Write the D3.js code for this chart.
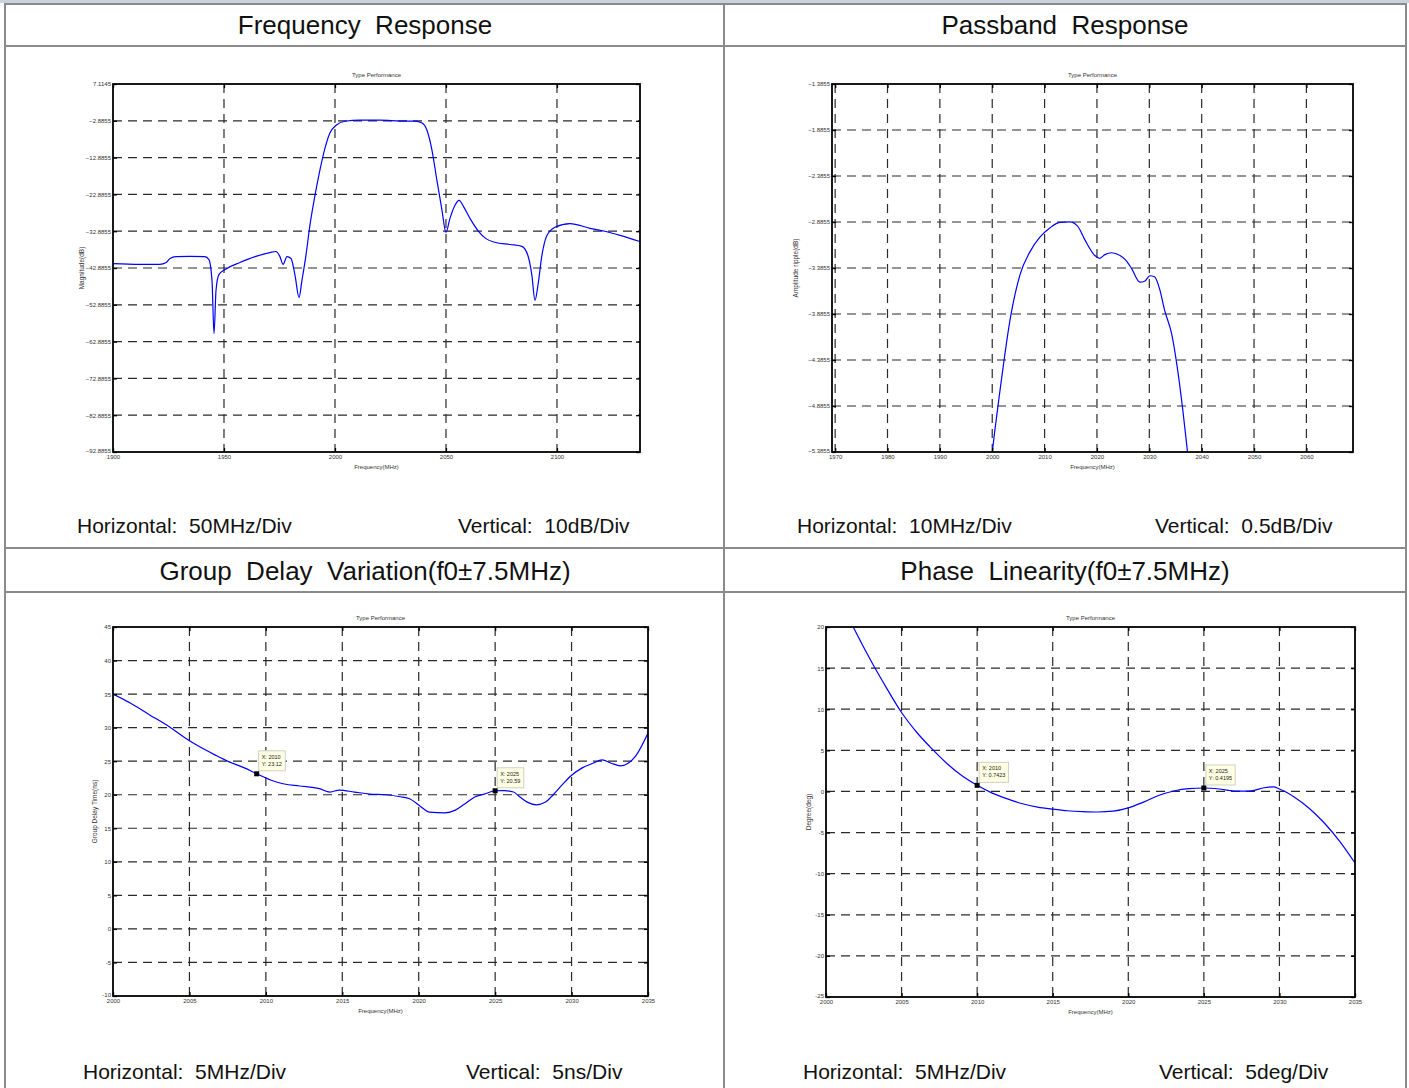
<!DOCTYPE html>
<html>
<head>
<meta charset="utf-8">
<script src="https://cdn.jsdelivr.net/npm/d3@7"></script>
<style>
  body { margin: 0; background: #fff; }
  svg { display: block; font-family: "Liberation Sans", Arial, sans-serif; }
</style>
</head>
<body>
<script>
// ---- frequency response (wide span)
var respF  = [1900, 1912, 1921, 1924, 1925.7, 1928.4, 1934.7, 1941.4, 1943.2, 1944.6, 1945.5, 1946.4, 1947.7, 1950.5, 1957.2, 1964, 1970.7, 1973.4, 1975.2, 1976.6, 1978.4, 1980.2, 1982, 1983.8, 1985.1, 1986.9, 1988.7, 1991, 1993.2, 1995.5, 1997.7, 2000.5, 2004.5, 2011.3, 2020.3, 2029.3, 2036, 2039.2, 2041.4, 2043.7, 2045.9, 2048.2, 2050, 2051.8, 2054, 2055.9, 2058.1, 2060.8, 2064.4, 2068, 2072, 2078.8, 2084.2, 2086.9, 2088.7, 2090.1, 2091.4, 2093.2, 2095.5, 2099.1, 2105.9, 2114.9, 2121.6, 2128.4, 2137.4];
var respDb = [-41.7, -41.9, -41.9, -41.4, -40.3, -39.8, -39.7, -39.8, -40.6, -46.3, -60.7, -49, -44.7, -43.3, -41.4, -39.8, -38.7, -38.4, -39.8, -41.9, -39.8, -40.3, -44.9, -50.9, -46.3, -39.5, -31.3, -23.1, -16.3, -10.3, -6.2, -4.1, -3.0, -2.7, -2.7, -2.95, -3.0, -3.5, -5.4, -10.9, -19.0, -27.2, -33.2, -29.4, -25.9, -24.5, -26.4, -29.4, -32.7, -34.9, -35.9, -36.5, -37, -39.5, -44.9, -51.7, -47.7, -39.5, -34, -31.8, -30.8, -32.1, -32.9, -34, -35.7];
var respXTicks = [1900, 1950, 2000, 2050, 2100];
var respYTicks = [7.1145, -2.8855, -12.8855, -22.8855, -32.8855, -42.8855, -52.8855, -62.8855, -72.8855, -82.8855, -92.8855];

// ---- passband ripple
var passF  = [2000, 2000.5, 2001.5, 2002.4, 2003.4, 2005.3, 2007.2, 2009.1, 2011.0, 2012.9, 2014.8, 2016.3, 2017.7, 2019.6, 2020.5, 2021.5, 2022.8, 2024.4, 2025.5, 2026.6, 2028.2, 2029.1, 2030.1, 2031.0, 2032.0, 2032.9, 2034.3, 2035.4, 2036.4, 2037.3, 2038.3];
var passDb = [-5.39, -5.15, -4.71, -4.33, -3.95, -3.46, -3.21, -3.05, -2.95, -2.89, -2.885, -2.93, -3.08, -3.25, -3.28, -3.24, -3.22, -3.25, -3.30, -3.39, -3.54, -3.53, -3.47, -3.48, -3.62, -3.84, -4.11, -4.49, -4.93, -5.39, -5.9];
var passXTicks = [1970, 1980, 1990, 2000, 2010, 2020, 2030, 2040, 2050, 2060];
var passYTicks = [-1.3855, -1.8855, -2.3855, -2.8855, -3.3855, -3.8855, -4.3855, -4.8855, -5.3855];

// ---- group delay
var gdF  = [2000, 2001.1, 2002.4, 2003.7, 2004.7, 2005.7, 2006.7, 2007.6, 2008.6, 2009.4, 2010.3, 2011.2, 2012.2, 2013.5, 2014.2, 2014.8, 2015.8, 2016.8, 2017.8, 2018.8, 2019.4, 2020.1, 2020.7, 2021.7, 2022.4, 2023.0, 2023.7, 2024.3, 2025, 2025.6, 2026.2, 2026.6, 2027.1, 2027.7, 2028.3, 2028.8, 2029.4, 2030.0, 2030.7, 2031.4, 2032.0, 2032.6, 2033.2, 2033.7, 2034.2, 2035];
var gdNs = [35.0, 33.7, 31.9, 30.1, 28.5, 27.1, 25.9, 24.9, 24.0, 23.12, 22.2, 21.6, 21.3, 20.9, 20.4, 20.7, 20.4, 20.1, 20.0, 19.7, 19.4, 18.3, 17.4, 17.3, 17.7, 18.6, 19.7, 20.1, 20.59, 20.6, 20.4, 19.7, 18.9, 18.5, 18.9, 20.0, 21.5, 22.9, 24.0, 24.7, 25.2, 24.7, 24.3, 24.7, 25.8, 29.2];
var gdXTicks = [2000, 2005, 2010, 2015, 2020, 2025, 2030, 2035];
var gdYTicks = [45, 40, 35, 30, 25, 20, 15, 10, 5, 0, -5, -10];
var gdTipX = [2009.4, 2025];
var gdTipY = [23.12, 20.59];
var gdTipText = [["X: 2010", "Y: 23.12"], ["X: 2025", "Y: 20.59"]];

// ---- phase linearity
var phF   = [2001, 2001.8, 2003, 2004, 2005, 2006, 2007, 2008, 2009, 2010, 2011, 2012, 2013, 2014, 2015, 2016, 2017, 2018, 2019, 2020, 2021, 2022, 2023, 2024, 2025, 2026, 2027, 2028, 2029, 2029.6, 2030, 2031, 2032, 2033, 2034, 2035];
var phDeg = [23, 20, 15.8, 12.6, 9.6, 7.2, 5.2, 3.4, 1.9, 0.7423, -0.2, -0.9, -1.5, -1.9, -2.15, -2.35, -2.45, -2.5, -2.4, -2.0, -1.3, -0.5, 0.05, 0.35, 0.4195, 0.3, 0.05, 0.05, 0.45, 0.55, 0.3, -0.7, -2.1, -3.9, -6.1, -8.7];
var phXTicks = [2000, 2005, 2010, 2015, 2020, 2025, 2030, 2035];
var phYTicks = [20, 15, 10, 5, 0, -5, -10, -15, -20, -25];
var phTipX = [2010, 2025];
var phTipY = [0.7423, 0.4195];
var phTipText = [["X: 2010", "Y: 0.7423"], ["X: 2025", "Y: 0.4195"]];

var W = 1409, H = 1088;
var svg = d3.select("body").append("svg")
  .attr("width", W)
  .attr("height", H);

// page frame (table look)
svg.append("rect").attr("x", 0).attr("y", 0).attr("width", W).attr("height", 3).attr("fill", "#c9d2de");
var frame = svg.append("g").attr("stroke", "#8a8a8a").attr("stroke-width", 2);
[4, 46, 548, 592].forEach(function (yy) {
  frame.append("line").attr("x1", 4).attr("x2", 1406).attr("y1", yy).attr("y2", yy);
});
[5, 724, 1406].forEach(function (xx) {
  frame.append("line").attr("x1", xx).attr("x2", xx).attr("y1", 3).attr("y2", H);
});

function heading(txt, cx, yy) {
  svg.append("text").attr("x", cx).attr("y", yy)
    .attr("text-anchor", "middle")
    .attr("font-size", 26)
    .attr("fill", "#111")
    .style("white-space", "pre")
    .text(txt);
}
heading("Frequency  Response", 365, 34);
heading("Passband  Response", 1065, 34);
heading("Group  Delay  Variation(f0\u00b17.5MHz)", 365, 580);
heading("Phase  Linearity(f0\u00b17.5MHz)", 1065, 580);

function foot(txt, xx, yy) {
  svg.append("text").attr("x", xx).attr("y", yy)
    .attr("font-size", 21)
    .attr("fill", "#111")
    .style("white-space", "pre")
    .text(txt);
}
foot("Horizontal:  50MHz/Div", 77, 533);
foot("Vertical:  10dB/Div", 458, 533);
foot("Horizontal:  10MHz/Div", 797, 533);
foot("Vertical:  0.5dB/Div", 1155, 533);
foot("Horizontal:  5MHz/Div", 83, 1079);
foot("Vertical:  5ns/Div", 466, 1079);
foot("Horizontal:  5MHz/Div", 803, 1079);
foot("Vertical:  5deg/Div", 1159, 1079);

var clipN = 0;
function panel(o) {
  var g = svg.append("g");
  var x = d3.scaleLinear().domain(o.xDomain).range([o.left, o.right]);
  var y = d3.scaleLinear().domain(o.yDomain).range([o.bottom, o.top]);

  // dashed grid
  var grid = g.append("g").attr("stroke", "#2a2a2a").attr("stroke-width", 1.2).attr("stroke-dasharray", "9,6");
  grid.selectAll("line.v").data(o.xTicks.filter(function (v) { return x(v) > o.left + 1 && x(v) < o.right - 1; }))
    .join("line").attr("class", "v")
    .attr("x1", function (d) { return x(d); }).attr("x2", function (d) { return x(d); })
    .attr("y1", o.top).attr("y2", o.bottom);
  grid.selectAll("line.h").data(o.yTicks.filter(function (v) { return y(v) > o.top + 1 && y(v) < o.bottom - 1; }))
    .join("line").attr("class", "h")
    .attr("x1", o.left).attr("x2", o.right)
    .attr("y1", function (d) { return y(d); }).attr("y2", function (d) { return y(d); });

  // curve
  var id = "clip" + (clipN++);
  g.append("clipPath").attr("id", id).append("rect")
    .attr("x", o.left).attr("y", o.top).attr("width", o.right - o.left).attr("height", o.bottom - o.top);
  var line = d3.line()
    .x(function (d, i) { return x(o.xs[i]); })
    .y(function (d, i) { return y(o.ys[i]); })
    .curve(d3.curveMonotoneX);
  g.append("path").datum(o.xs)
    .attr("clip-path", "url(#" + id + ")")
    .attr("fill", "none").attr("stroke", "#0000ff").attr("stroke-width", 1.2)
    .attr("d", line);

  // axes, ticks pointing inward
  var fmtY = o.yFmt || function (d) { return String(d); };
  var ax = g.append("g").attr("transform", "translate(0," + o.bottom + ")")
    .call(d3.axisBottom(x).tickValues(o.xTicks).tickSize(-4).tickSizeOuter(0).tickPadding(3).tickFormat(d3.format("d")));
  var ay = g.append("g").attr("transform", "translate(" + o.left + ",0)")
    .call(d3.axisLeft(y).tickValues(o.yTicks).tickSize(-4).tickSizeOuter(0).tickPadding(2).tickFormat(fmtY));
  g.append("g").attr("transform", "translate(0," + o.top + ")")
    .call(d3.axisTop(x).tickValues(o.xTicks).tickSize(-4).tickSizeOuter(0).tickFormat(""));
  g.append("g").attr("transform", "translate(" + o.right + ",0)")
    .call(d3.axisRight(y).tickValues(o.yTicks).tickSize(-4).tickSizeOuter(0).tickFormat(""));
  g.selectAll(".domain").remove();
  g.selectAll(".tick line").attr("stroke", "#000").attr("stroke-width", 1.3);
  [ax, ay].forEach(function (a) {
    a.selectAll("text").attr("font-size", 6).attr("fill", "#333").attr("font-family", "Liberation Sans, Arial, sans-serif");
  });
  // lowest y label sits a little above the x labels, as in the reference
  ay.selectAll(".tick").filter(function (d) { return d === o.yDomain[0]; })
    .select("text").attr("dy", "0.05em");
  g.append("rect").attr("x", o.left).attr("y", o.top)
    .attr("width", o.right - o.left).attr("height", o.bottom - o.top)
    .attr("fill", "none").attr("stroke", "#000").attr("stroke-width", 1.8);

  // labels
  var cx = (o.left + o.right) / 2;
  g.append("text").attr("x", cx).attr("y", o.top - 7).attr("text-anchor", "middle")
    .attr("font-size", 6).attr("fill", "#333").text("Type Performance");
  g.append("text").attr("x", cx).attr("y", o.bottom + 17).attr("text-anchor", "middle")
    .attr("font-size", 6).attr("fill", "#333").text("Frequency(MHz)");
  g.append("text").attr("transform", "translate(" + o.ylabX + "," + (o.top + o.bottom) / 2 + ") rotate(-90)")
    .attr("text-anchor", "middle").attr("font-size", 6.5).attr("fill", "#333").text(o.ylabel);

  // data tips
  if (o.tipX) {
    o.tipX.forEach(function (tx, i) {
      var px = x(tx), py = y(o.tipY[i]);
      var lines = o.tipText[i];
      var bw = 5 + d3.max(lines, function (s) { return s.length; }) * 2.7;
      var tg = g.append("g").attr("transform", "translate(" + (px + 2) + "," + (py - 23) + ")");
      tg.append("rect").attr("width", bw).attr("height", 20)
        .attr("fill", "#ffffe3").attr("stroke", "#d0d0c0").attr("stroke-width", 1);
      lines.forEach(function (s, k) {
        tg.append("text").attr("x", 3).attr("y", 8 + k * 7).attr("font-size", 5.5).attr("fill", "#222").text(s);
      });
      g.append("rect").attr("x", px - 2.5).attr("y", py - 2.5).attr("width", 5).attr("height", 5).attr("fill", "#000");
    });
  }
}

panel({
  left: 113, right: 640, top: 84, bottom: 452,
  xDomain: [1900, 2137.4], yDomain: [-92.8855, 7.1145],
  xTicks: respXTicks, yTicks: respYTicks, yFmt: d3.format(".4f"),
  xs: respF, ys: respDb, ylabel: "Magnitude(dB)", ylabX: 84
});
panel({
  left: 832, right: 1353, top: 84, bottom: 452,
  xDomain: [1969.4, 2068.9], yDomain: [-5.3855, -1.3855],
  xTicks: passXTicks, yTicks: passYTicks, yFmt: d3.format(".4f"),
  xs: passF, ys: passDb, ylabel: "Amplitude ripple(dB)", ylabX: 798
});
panel({
  left: 113, right: 648, top: 627, bottom: 996,
  xDomain: [2000, 2035], yDomain: [-10, 45],
  xTicks: gdXTicks, yTicks: gdYTicks,
  xs: gdF, ys: gdNs, ylabel: "Group Delay Time(ns)", ylabX: 97,
  tipX: gdTipX, tipY: gdTipY, tipText: gdTipText
});
panel({
  left: 826, right: 1355, top: 627, bottom: 997,
  xDomain: [2000, 2035], yDomain: [-25, 20],
  xTicks: phXTicks, yTicks: phYTicks,
  xs: phF, ys: phDeg, ylabel: "Degree(deg)", ylabX: 811,
  tipX: phTipX, tipY: phTipY, tipText: phTipText
});
</script>
</body>
</html>
